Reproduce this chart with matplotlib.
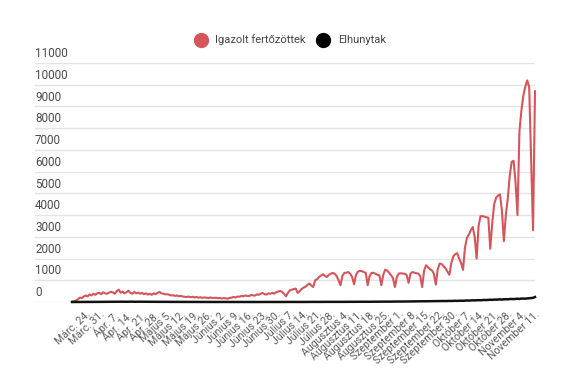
import matplotlib
matplotlib.use("Agg")
import matplotlib.pyplot as plt
from matplotlib.transforms import blended_transform_factory
from matplotlib.lines import Line2D

plt.rcParams["font.family"] = ["Roboto", "DejaVu Sans"]

# weekly tick labels (every 7th day, first one on day 7)
tick_labels = [
    "Márc. 24.", "Márc. 31.", "Ápr. 7.", "Ápr. 14.", "Ápr. 21.", "Ápr. 28.",
    "Május 5.", "Május 12.", "Május 19.", "Május 26.", "Június 2.", "Június 9.",
    "Június 16.", "Június 23.", "Június 30.", "Július 7.", "Július 14.",
    "Július 21.", "Július 28.", "Augusztus 4.", "Augusztus 11.", "Augusztus 18.",
    "Augusztus 25.", "Szeptember 1.", "Szeptember 8.", "Szeptember 15.",
    "Szeptember 22.", "Szeptember 30.", "Október 7.", "Október 14.",
    "Október 21.", "Október 28.", "November 4.", "November 11.",
]

# daily confirmed cases
cases = [
    10, 30, 60, 120, 200, 180, 250, 300, 260, 350,
    300, 380, 330, 400, 420, 360, 450, 400, 380, 430,
    470, 440, 380, 500, 570, 430, 480, 400, 450, 520,
    420, 380, 460, 400, 430, 380, 420, 360, 400, 340,
    380, 330, 400, 360, 420, 460, 400, 380, 350, 360,
    330, 300, 310, 280, 300, 260, 280, 250, 240, 230,
    250, 220, 240, 210, 230, 200, 220, 190, 210, 200,
    180, 210, 190, 185, 200, 170, 190, 160, 180, 170,
    150, 190, 200, 230, 210, 250, 240, 280, 260, 300,
    280, 270, 320, 310, 290, 350, 330, 380, 415, 360,
    340, 400, 380, 420, 385, 450, 480, 510, 460, 380,
    260, 420, 540, 560, 600, 615, 420, 500, 600, 660,
    700, 780, 850, 760, 690, 1000, 1050, 1150, 1220, 1280,
    1200, 1150, 1250, 1300, 1340, 1300, 1200, 1000, 770, 1200,
    1340, 1350, 1380, 1300, 1150, 815, 1250, 1400, 1430, 1420,
    1380, 1340, 770, 1200, 1340, 1340, 1300, 1250, 1230, 770,
    1250, 1490, 1450, 1350, 1230, 1100, 690, 1150, 1310, 1320,
    1310, 1300, 1250, 880, 1300, 1380, 1350, 1320, 1310, 1200,
    690, 1450, 1690, 1600, 1500, 1460, 1300, 800, 1500, 1770,
    1750, 1650, 1550, 1400, 1250, 1800, 2100, 2200, 2250, 2000,
    1800, 1480, 2500, 2950, 3100, 3300, 3450, 3000, 2000, 3500,
    3950, 3950, 3930, 3900, 3880, 2450, 3600, 4500, 4800, 4900,
    4950, 4200, 2800, 4000, 4750, 5800, 6450, 6500, 5500, 4000,
    7850, 8800, 9500, 9900, 10200, 9900, 6600, 3300, 9700,
]

# daily deaths
deaths = [
    0, 0, 1, 0, 1, 1, 2, 1, 2, 3,
    2, 4, 3, 5, 6, 5, 8, 9, 7, 10,
    12, 10, 14, 11, 15, 13, 12, 16, 14, 11,
    15, 13, 12, 10, 14, 12, 9, 13, 11, 10,
    12, 9, 8, 11, 10, 8, 9, 7, 8, 6,
    7, 5, 6, 4, 5, 3, 4, 5, 3, 4,
    2, 3, 4, 2, 3, 1, 2, 3, 1, 2,
    1, 2, 0, 1, 2, 1, 0, 1, 2, 1,
    0, 1, 1, 0, 1, 2, 1, 0, 1, 1,
    0, 1, 2, 1, 0, 1, 1, 2, 1, 0,
    1, 2, 1, 1, 2, 1, 0, 1, 2, 1,
    2, 1, 2, 3, 2, 1, 2, 3, 2, 3,
    4, 3, 2, 4, 5, 3, 4, 5, 6, 4,
    5, 6, 7, 5, 6, 8, 7, 6, 8, 9,
    7, 8, 10, 9, 8, 11, 10, 9, 12, 11,
    10, 13, 12, 11, 14, 13, 12, 15, 14, 16,
    15, 17, 16, 18, 17, 19, 18, 20, 22, 21,
    23, 22, 25, 24, 26, 28, 27, 30, 29, 32,
    31, 34, 33, 36, 35, 38, 37, 40, 42, 39,
    44, 46, 43, 48, 50, 47, 52, 55, 51, 58,
    60, 56, 64, 70, 65, 72, 78, 74, 80, 85,
    82, 88, 95, 90, 98, 105, 100, 110, 108, 115,
    120, 112, 125, 130, 122, 135, 140, 132, 145, 150,
    142, 155, 160, 150, 165, 170, 180, 190, 230,
]

days = list(range(len(cases)))
tick_pos = [7 + 7 * i for i in range(len(tick_labels))]

fig = plt.figure(figsize=(5.75, 3.87), dpi=100)
W, H = 575, 387
# axes from x=35px to 535px, y from 302px (zero) to 63px (11000)
ax = fig.add_axes([35 / W, 1 - 302 / H, 500 / W, (302 - 63) / H])

ax.plot(days, cases, color="#d4565c", lw=1.5, clip_on=False, zorder=3)
ax.plot(days, deaths, color="#111111", lw=1.8, clip_on=False, zorder=4)

px_per_day = 463 / (len(cases) - 1)
ax.set_xlim(-37 / px_per_day, len(cases) - 1)
ax.set_ylim(0, 11000)

yticks = list(range(0, 11001, 1000))
ax.set_yticks(yticks)
ax.set_yticklabels([])
ax.tick_params(axis="y", length=0)
ax.grid(axis="y", color="#e4e4e4", lw=1)
trans = blended_transform_factory(ax.transAxes, ax.transData)
for v in yticks:
    ax.annotate(str(v), xy=(0, v), xycoords=trans, xytext=(0, 2),
                textcoords="offset points", ha="left", va="bottom",
                fontsize=8.4, color="#4a4a4a")

ax.set_xticks(tick_pos)
ax.set_xticklabels(tick_labels, rotation=43, ha="right",
                   rotation_mode="anchor", fontsize=7.6, color="#5a5a5a")
ax.tick_params(axis="x", length=0, pad=5)

for s in ax.spines.values():
    s.set_visible(False)

handles = [
    Line2D([], [], marker="o", ls="", color="#d4565c", markersize=10),
    Line2D([], [], marker="o", ls="", color="#000000", markersize=10),
]
fig.legend(handles, ["Igazolt fertőzöttek", "Elhunytak"], loc="center",
           bbox_to_anchor=(290 / W, 1 - 40 / H), ncol=2, frameon=False,
           fontsize=8, labelcolor="#444444", handletextpad=0.7,
           columnspacing=1.0, handlelength=1.2)

fig.savefig("out.png", dpi=100, facecolor="white")
